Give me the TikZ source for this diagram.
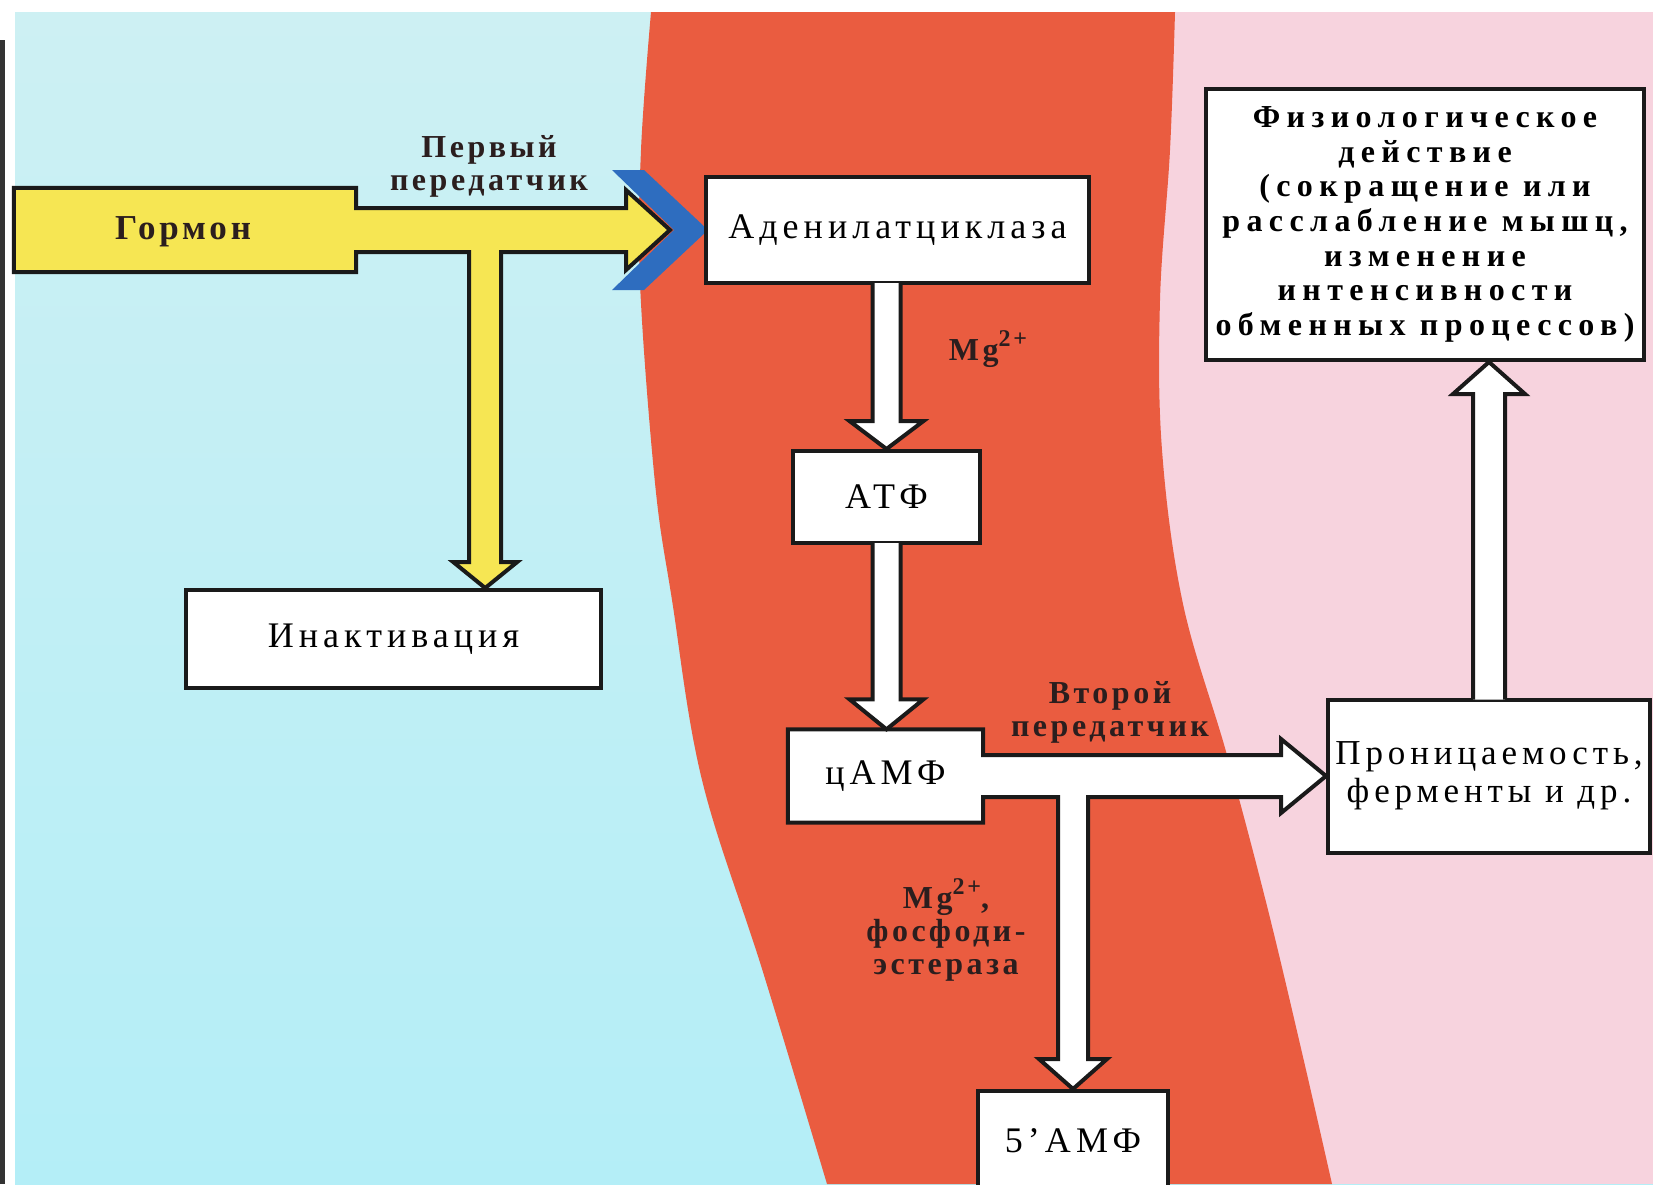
\documentclass[tikz,border=0pt]{standalone}
\usepackage{fontspec}
\setmainfont{Liberation Serif}
\newfontfamily\boxf{Liberation Serif}[LetterSpace=14]
\newfontfamily\fizf{Liberation Serif}[LetterSpace=20]
\newfontfamily\labf{Liberation Serif}[LetterSpace=11]
\usetikzlibrary{calc}
\definecolor{cyanA}{HTML}{CDF0F3}
\definecolor{cyanB}{HTML}{B4EEF7}
\definecolor{redbg}{HTML}{EA5C40}
\definecolor{pinkbg}{HTML}{F7D3DE}
\definecolor{bluech}{HTML}{2E6DBF}
\definecolor{yel}{HTML}{F6E653}
\definecolor{ink}{HTML}{1A1A1A}
\definecolor{labink}{HTML}{2B1E1E}
\newcommand\DownArr[6]{%
  \draw[blk,fill=#6] ($(#1)+(-#3,-2)$) -- ($(#2)+(-#3,-#5)$) -- ($(#2)+(-#4,-#5)$) -- (#2)
    -- ($(#2)+(#4,-#5)$) -- ($(#2)+(#3,-#5)$) -- ($(#1)+(#3,-2)$);}
\newcommand\SupTwo{\raisebox{0.42em}{\fontsize{24}{24}\selectfont 2+}}
\begin{document}
\begin{tikzpicture}[x=1pt,y=-1pt,
  boxst/.style={draw=ink, line width=4pt, fill=white, inner sep=0pt,
    font=\boxf\fontsize{36}{39}\selectfont, align=center},
  txt/.style={inner sep=0pt, font=\boxf\fontsize{36}{39}\selectfont, align=center},
  lbl/.style={inner sep=0pt, font=\labf\bfseries\fontsize{32}{33}\selectfont, text=labink, align=center},
  blk/.style={draw=ink, line width=4pt, line join=miter},
]
\fill[white] (0,0) rectangle (1653,1184);
\useasboundingbox (0,0) rectangle (1653,1184);
% background zones
\shade[top color=cyanA, bottom color=cyanB] (15,12) rectangle (1653,1184);
\fill[pinkbg] (1100,12) rectangle (1653,1184);
\fill[redbg] plot[smooth, tension=0.6] coordinates {(651,12) (641,150) (640,283) (655,483) (672,600) (702,780) (763,972) (827,1184)}
  -- plot[smooth, tension=0.6] coordinates {(1332,1184) (1303,1057) (1267,906) (1227,755) (1183,604) (1162,450) (1160,300) (1170,150) (1175,12)} -- cycle;
\fill[black!80] (0,40) rectangle (5,1184);

% blue chevron (membrane receptor)
\fill[bluech] (612,170) -- (644,170) -- (708,230) -- (644,290) -- (612,290) -- (674,230) -- cycle;

% boxes
\node[boxst, minimum width=383, minimum height=106] (adc) at (897.5,230) {Аденилатциклаза};
\node[boxst, minimum width=415, minimum height=98] (inak) at (393.5,639) {Инактивация};
\node[boxst, minimum width=187, minimum height=92] (atp) at (886.5,497) {АТФ};
\node[boxst, minimum width=190, minimum height=100] (amp5) at (1073,1141) {5’АМФ};
\node[boxst, minimum width=322, minimum height=153, font=\boxf\fontsize{35}{38}\selectfont] (prn) at (1489,776) {Проницаемость,\\ферменты и др.};
\node[boxst, minimum width=438, minimum height=271, font=\fizf\bfseries\fontsize{32}{34.6}\selectfont] (fiz) at (1425,224.5)
  {Физиологическое\\действие\\(сокращение или\\расслабление мышц,\\изменение\\интенсивности\\обменных процессов)};

% hormone arrow (yellow)
\node[inner sep=0pt, minimum width=342, minimum height=84] (horm) at (185,230) {};
\draw[blk, fill=yel] (horm.north west) -- (horm.north east) -- ($(horm.east)+(0,-22)$)
  -- ($(adc.west)+(-78,-22)$) -- ($(adc.west)+(-78,-40)$) -- ($(adc.west)+(-34,0)$)
  -- ($(adc.west)+(-78,40)$) -- ($(adc.west)+(-78,22)$) -- ($(horm.east)+(0,22)$)
  -- (horm.south east) -- (horm.south west) -- cycle;
\node[inner sep=0pt, font=\labf\bfseries\fontsize{35}{38}\selectfont, text=labink] (hormtxt) at (183,232) {Гормон};
\coordinate (ybr) at ($(horm.east)+(129,22)$);
\DownArr{ybr}{ybr |- inak.north}{16}{32}{26}{yel}

% cAMP box with outgoing arrow
\node[inner sep=0pt, minimum width=195, minimum height=93] (camp) at (885.5,776) {};
\draw[blk, fill=white] (camp.north west) -- (camp.north east) -- ($(camp.east)+(0,-21)$)
  -- ($(prn.west)+(-45,-21)$) -- ($(prn.west)+(-45,-37)$) -- (prn.west)
  -- ($(prn.west)+(-45,37)$) -- ($(prn.west)+(-45,21)$) -- ($(camp.east)+(0,21)$)
  -- (camp.south east) -- (camp.south west) -- cycle;
\node[txt] (camptxt) at (camp.center) {цАМФ};
\coordinate (cb) at ($(camp.east)+(0,21)$);

% white vertical arrows
\DownArr{atp.north |- adc.south}{atp.north}{14}{37}{28}{white}
\DownArr{atp.south}{atp.south |- camp.north}{14}{37}{30}{white}
\DownArr{amp5.north |- cb}{amp5.north}{15}{34}{30}{white}
\draw[blk, fill=white] ($(prn.north)+(-16,2)$) -- ($(fiz.south -| prn.north)+(-16,32)$) -- ($(fiz.south -| prn.north)+(-36,32)$)
  -- (fiz.south -| prn.north) -- ($(fiz.south -| prn.north)+(36,32)$) -- ($(fiz.south -| prn.north)+(16,32)$) -- ($(prn.north)+(16,2)$);

% labels
\node[lbl] (l1) at (489,166) {Первый\\передатчик};
\node[lbl] (l2) at (988,349) {Mg\SupTwo};
\node[lbl] (l3) at (1110,712) {Второй\\передатчик};
\node[lbl] (l4) at (946,930) {Mg\SupTwo,\\фосфоди-\\эстераза};
\end{tikzpicture}
\end{document}
